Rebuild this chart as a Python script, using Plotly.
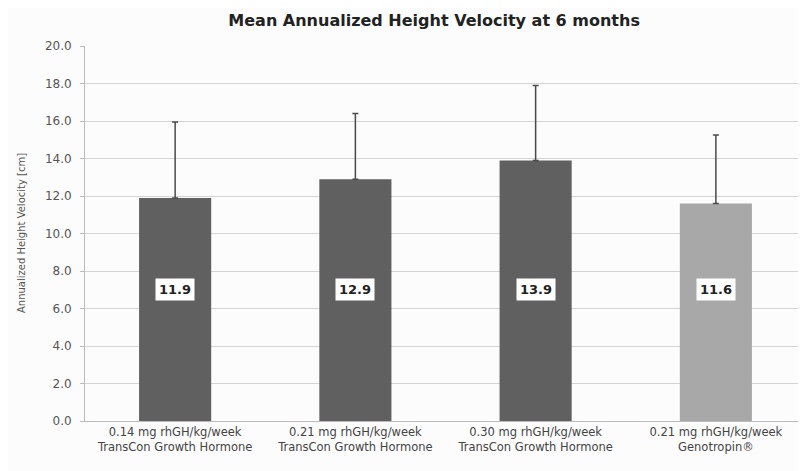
import plotly.graph_objects as go

categories = ["0.14 mg rhGH/kg/week<br>TransCon Growth Hormone",
              "0.21 mg rhGH/kg/week<br>TransCon Growth Hormone",
              "0.30 mg rhGH/kg/week<br>TransCon Growth Hormone",
              "0.21 mg rhGH/kg/week<br>Genotropin®"]
values = [11.9, 12.9, 13.9, 11.6]
errors_up = [4.05, 3.5, 4.0, 3.65]
value_labels = ["11.9", "12.9", "13.9", "11.6"]
bar_colors = ["#606060", "#606060", "#606060", "#a8a8a8"]
tick_vals = [0, 2, 4, 6, 8, 10, 12, 14, 16, 18, 20]
tick_text = ["0.0", "2.0", "4.0", "6.0", "8.0", "10.0", "12.0", "14.0", "16.0", "18.0", "20.0"]
label_y = 7.0

fig = go.Figure()
fig.add_trace(go.Bar(
    x=categories, y=values,
    marker=dict(color=bar_colors, line=dict(width=0)),
    error_y=dict(type="data", symmetric=False, array=errors_up,
                 arrayminus=[0, 0, 0, 0], color="#4a4a4a", thickness=1.5, width=3),
    showlegend=False,
))
for c, t in zip(categories, value_labels):
    fig.add_annotation(x=c, y=label_y, text="<b>" + t + "</b>", showarrow=False,
                       bgcolor="white", borderpad=3,
                       font=dict(family="DejaVu Sans", size=13, color="#222"))

# y-axis title placed as rotated text
fig.add_annotation(xref="paper", yref="paper", x=-0.088, y=0.5, xanchor="center", yanchor="middle",
                   text="Annualized Height Velocity [cm]", textangle=-90, showarrow=False,
                   font=dict(family="DejaVu Sans", size=10, color="#555"))

fig.update_layout(
    width=798, height=463,
    margin=dict(l=77, r=0, t=38, b=50, autoexpand=False),
    paper_bgcolor="#fcfcfc", plot_bgcolor="#fcfcfc",
    bargap=0.6,
    title=dict(text="<b>Mean Annualized Height Velocity at 6 months</b>", x=0.534, xanchor="center",
               y=0.974, yanchor="middle",
               font=dict(family="DejaVu Sans", size=16, color="#222")),
    font=dict(family="DejaVu Sans", color="#555"),
    xaxis=dict(showgrid=False, showline=True, linecolor="#bbb", linewidth=1, automargin=False,
               tickfont=dict(size=11.5, color="#444")),
    yaxis=dict(range=[0, 20], tickvals=tick_vals, ticktext=tick_text, automargin=False,
               showgrid=True, gridcolor="#d4d4d4", gridwidth=1,
               showline=True, linecolor="#bbb", linewidth=1,
               ticks="outside", ticklen=4, tickcolor="#bbb", ticklabelstandoff=6,
               tickfont=dict(size=12, color="#555")),
)
fig.write_html("out.html")
